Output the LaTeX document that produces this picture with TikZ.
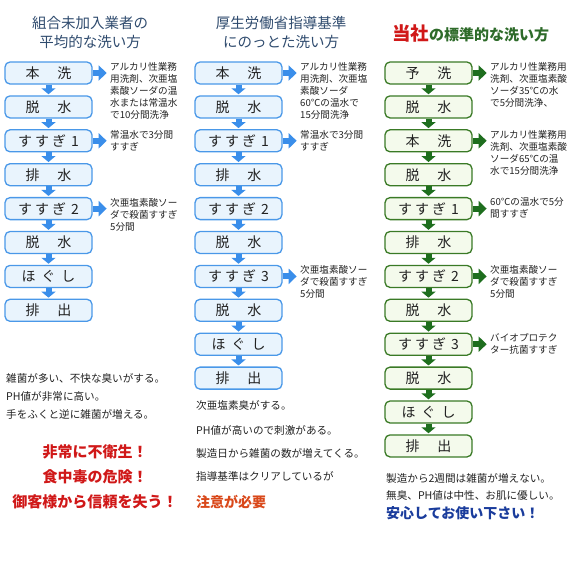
\documentclass[tikz,border=0pt]{standalone}
\usepackage{fontspec}
\newfontfamily\jp{Noto Sans CJK JP}
\usetikzlibrary{arrows.meta}
\definecolor{bborder}{HTML}{4A98E8}
\definecolor{bfill}{HTML}{E9F4FD}
\definecolor{barrowc}{HTML}{3A8EEA}
\definecolor{gborder}{HTML}{3A7A26}
\definecolor{gfill}{HTML}{F4FAEC}
\definecolor{garrowc}{HTML}{1E6E1E}
\definecolor{titleblue}{HTML}{2F4B6E}
\definecolor{titlegreen}{HTML}{2E6B2A}
\definecolor{redtxt}{HTML}{D01818}
\definecolor{orangetxt}{HTML}{D9481A}
\definecolor{bluetxt}{HTML}{1A3C9C}
\definecolor{bodytxt}{HTML}{222222}
\newcommand\twoc[2]{#1\hspace{18pt}#2}
\newcommand\sus[1]{す\hspace{3pt}す\hspace{3pt}ぎ\hspace{5pt}#1}
\newcommand\hgs{ほ\hspace{6pt}ぐ\hspace{6pt}し}
\tikzset{
  boxbase/.style={rounded corners=5pt, line width=1.3pt, minimum width=87pt, minimum height=22pt, inner sep=0pt, text=bodytxt, font=\jp\fontsize{14}{16}\selectfont},
  bbox/.style={boxbase, draw=bborder, fill=bfill},
  gbox/.style={boxbase, draw=gborder, fill=gfill},
  bdown/.style={draw=barrowc, line width=6pt, -{Triangle[width=14pt,length=6pt]}, shorten >=1pt},
  gdown/.style={draw=garrowc, line width=6pt, -{Triangle[width=14pt,length=6pt]}, shorten >=1pt},
  bright/.style={draw=barrowc, line width=6pt, -{Triangle[width=15pt,length=8pt]}},
  gright/.style={draw=garrowc, line width=6pt, -{Triangle[width=15pt,length=8pt]}},
  desc/.style={anchor=north west, inner sep=0pt, align=left, text=bodytxt, font=\jp\fontsize{9.6}{12}\selectfont},
  body/.style={anchor=west, inner sep=0pt, text=bodytxt, font=\jp\fontsize{10.6}{12}\selectfont},
  title/.style={inner sep=0pt, text=titleblue, font=\jp\fontsize{14.5}{17}\selectfont},
  warn/.style={inner sep=0pt, text=redtxt, font=\jp\bfseries\fontsize{15}{17}\selectfont}
}
\begin{document}
\begin{tikzpicture}[x=1pt,y=-1pt]
\useasboundingbox (0,0) rectangle (570,563);
% titles
\node[title] (t1a) at (90,23) {組合未加入業者の};
\node[title] (t1b) at (90,42) {平均的な洗い方};
\node[title] (t2a) at (281,23) {厚生労働省指導基準};
\node[title] (t2b) at (281,42) {にのっとた洗い方};
\node[inner sep=0pt, font=\jp\bfseries] (t3) at (470.5,33) {{\color{redtxt}\fontsize{18.5}{20}\selectfont 当社}{\color{titlegreen}\fontsize{15}{18}\selectfont の標準的な洗い方}};
% column 1
\node[bbox] (a1) at (48.5,73) {\twoc{本}{洗}};
\node[bbox] (a2) at (48.5,106.9) {\twoc{脱}{水}};
\node[bbox] (a3) at (48.5,140.8) {\sus{1}};
\node[bbox] (a4) at (48.5,174.7) {\twoc{排}{水}};
\node[bbox] (a5) at (48.5,208.6) {\sus{2}};
\node[bbox] (a6) at (48.5,242.5) {\twoc{脱}{水}};
\node[bbox] (a7) at (48.5,276.4) {\hgs};
\node[bbox] (a8) at (48.5,310.3) {\twoc{排}{出}};
\foreach \i [evaluate=\i as \j using int(\i+1)] in {1,...,7} {\draw[bdown] (a\i.south) -- (a\j.north);}
\coordinate (ar1) at ([xshift=14pt]a1.east);
\coordinate (ar3) at ([xshift=14pt]a3.east);
\coordinate (ar5) at ([xshift=14pt]a5.east);
\draw[bright] (a1.east) -- (ar1);
\draw[bright] (a3.east) -- (ar3);
\draw[bright] (a5.east) -- (ar5);
\node[desc] (ad1) at (110,62) {アルカリ性業務\\用洗剤、次亜塩\\素酸ソーダの温\\水または常温水\\で10分間洗浄};
\node[desc] (ad3) at (110,130) {常温水で3分間\\すすぎ};
\node[desc] (ad5) at (110,198) {次亜塩素酸ソー\\ダで殺菌すすぎ\\5分間};
% column 2
\node[bbox] (b1) at (238.5,73) {\twoc{本}{洗}};
\node[bbox] (b2) at (238.5,106.9) {\twoc{脱}{水}};
\node[bbox] (b3) at (238.5,140.8) {\sus{1}};
\node[bbox] (b4) at (238.5,174.7) {\twoc{排}{水}};
\node[bbox] (b5) at (238.5,208.6) {\sus{2}};
\node[bbox] (b6) at (238.5,242.5) {\twoc{脱}{水}};
\node[bbox] (b7) at (238.5,276.4) {\sus{3}};
\node[bbox] (b8) at (238.5,310.3) {\twoc{脱}{水}};
\node[bbox] (b9) at (238.5,344.2) {\hgs};
\node[bbox] (b10) at (238.5,378.1) {\twoc{排}{出}};
\foreach \i [evaluate=\i as \j using int(\i+1)] in {1,...,9} {\draw[bdown] (b\i.south) -- (b\j.north);}
\coordinate (br1) at ([xshift=14pt]b1.east);
\coordinate (br3) at ([xshift=14pt]b3.east);
\coordinate (br7) at ([xshift=14pt]b7.east);
\draw[bright] (b1.east) -- (br1);
\draw[bright] (b3.east) -- (br3);
\draw[bright] (b7.east) -- (br7);
\node[desc] (bd1) at (300,62) {アルカリ性業務\\用洗剤、次亜塩\\素酸ソーダ\\60℃の温水で\\15分間洗浄};
\node[desc] (bd3) at (300,130) {常温水で3分間\\すすぎ};
\node[desc] (bd7) at (300,265.4) {次亜塩素酸ソー\\ダで殺菌すすぎ\\5分間};
% column 3
\node[gbox] (c1) at (428.5,73) {\twoc{予}{洗}};
\node[gbox] (c2) at (428.5,106.9) {\twoc{脱}{水}};
\node[gbox] (c3) at (428.5,140.8) {\twoc{本}{洗}};
\node[gbox] (c4) at (428.5,174.7) {\twoc{脱}{水}};
\node[gbox] (c5) at (428.5,208.6) {\sus{1}};
\node[gbox] (c6) at (428.5,242.5) {\twoc{排}{水}};
\node[gbox] (c7) at (428.5,276.4) {\sus{2}};
\node[gbox] (c8) at (428.5,310.3) {\twoc{脱}{水}};
\node[gbox] (c9) at (428.5,344.2) {\sus{3}};
\node[gbox] (c10) at (428.5,378.1) {\twoc{脱}{水}};
\node[gbox] (c11) at (428.5,412) {\hgs};
\node[gbox] (c12) at (428.5,445.9) {\twoc{排}{出}};
\foreach \i [evaluate=\i as \j using int(\i+1)] in {1,...,11} {\draw[gdown] (c\i.south) -- (c\j.north);}
\foreach \i in {1,3,5,7,9} {
  \coordinate (cr\i) at ([xshift=14pt]c\i.east);
  \draw[gright] (c\i.east) -- (cr\i);
}
\node[desc] (cd1) at (490,62) {アルカリ性業務用\\洗剤、次亜塩素酸\\ソーダ35℃の水\\で5分間洗浄、};
\node[desc] (cd3) at (490,129.8) {アルカリ性業務用\\洗剤、次亜塩素酸\\ソーダ65℃の温\\水で15分間洗浄};
\node[desc] (cd5) at (490,197.6) {60℃の温水で5分\\間すすぎ};
\node[desc] (cd7) at (490,265.4) {次亜塩素酸ソー\\ダで殺菌すすぎ\\5分間};
\node[desc] (cd9) at (490,333.2) {バイオプロテク\\ター抗菌すすぎ};
% bottom texts column 1
\node[body] (p1) at (6,378) {雑菌が多い、不快な臭いがする。};
\node[body] (p2) at (6,396) {PH値が非常に高い。};
\node[body] (p3) at (6,414) {手をふくと逆に雑菌が増える。};
\node[warn] (w1) at (95,452) {非常に不衛生！};
\node[warn] (w2) at (95,477) {食中毒の危険！};
\node[warn] (w3) at (95,502) {御客様から信頼を失う！};
% bottom texts column 2
\node[body] (q1) at (196,405) {次亜塩素臭がする。};
\node[body] (q2) at (196,430) {PH値が高いので刺激がある。};
\node[body] (q3) at (196,453) {製造日から雑菌の数が増えてくる。};
\node[body] (q4) at (196,476) {指導基準はクリアしているが};
\node[anchor=west, inner sep=0pt, text=orangetxt, font=\jp\bfseries\fontsize{14}{16}\selectfont] (q5) at (196,502) {注意が必要};
% bottom texts column 3
\node[body] (s1) at (386,478) {製造から2週間は雑菌が増えない。};
\node[body] (s2) at (386,495) {無臭、PH値は中性、お肌に優しい。};
\node[anchor=west, inner sep=0pt, text=bluetxt, font=\jp\bfseries\fontsize{14}{16}\selectfont] (s3) at (386,513) {安心してお使い下さい！};
\end{tikzpicture}
\end{document}
